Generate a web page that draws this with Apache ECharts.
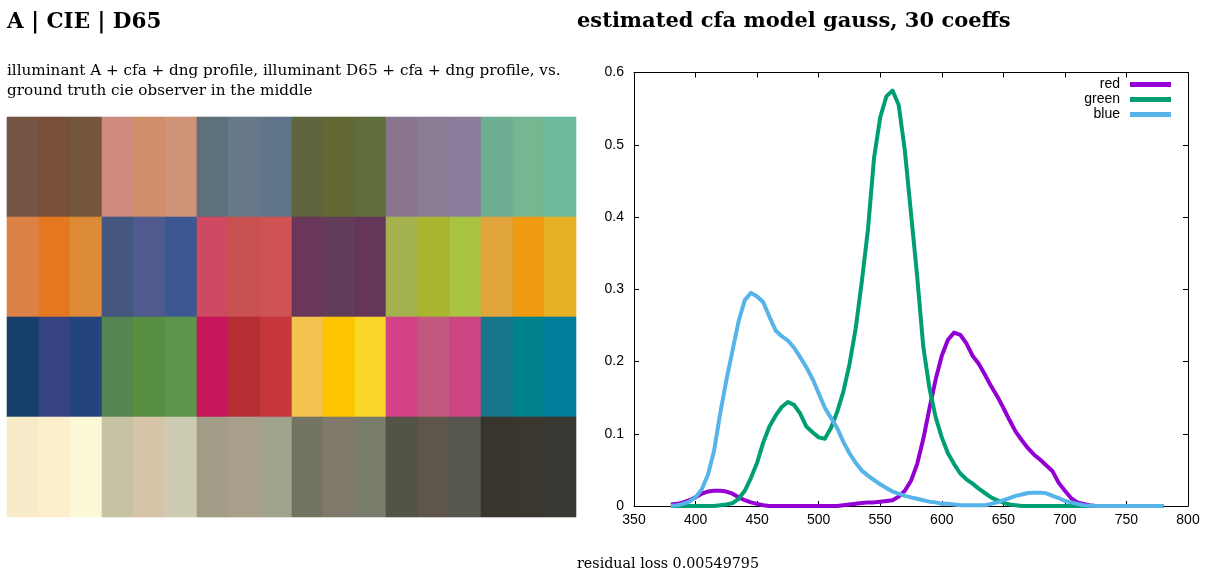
<!DOCTYPE html>
<html>
<head>
<meta charset="utf-8">
<script src="https://cdn.jsdelivr.net/npm/echarts@6/dist/echarts.min.js"></script>
<style>
html,body{margin:0;padding:0;background:#fff;}
#c{width:1220px;height:578px;}
</style>
</head>
<body>
<div id="c"></div>
<script>
// ---- colour checker strips (A | CIE | D65 per patch), rows top to bottom ----
const patchRow1 = ['#765444','#774F3B','#74553D','#CE8A7C','#CF8D6A','#CF9377','#5D717A','#677888','#5F7589','#5F653E','#636835','#5F6E3A','#89758D','#8B7D94','#8A7D9C','#6DAE92','#74B791','#6CBA9B'];
const patchRow2 = ['#DC8247','#E5781F','#DC8A36','#45577F','#515A8E','#3C5792','#CE4A62','#C85252','#CF5353','#6A365C','#613D59','#653659','#A4B24E','#AAB52F','#A8C441','#E1A33C','#EF9A10','#E6AF24'];
const patchRow3 = ['#173F6C','#354380','#23447C','#558551','#558F3F','#5C944C','#C9155B','#B52F32','#C6373C','#F3C44F','#FEC400','#FAD628','#D34287','#C2587F','#CE4584','#18768A','#00828C','#007D9A'];
const patchRow4 = ['#F8EBCA','#FDEFCC','#FAF8D7','#C6C2A4','#D6C4A9','#CDCCB2','#A19C85','#A99E8A','#A1A38D','#747463','#80786A','#787C6B','#545348','#5E564B','#56584F','#38342E','#3C3631','#393832'];

// ---- spectral curves, 380..780 nm every 5 nm ----
const wavelengths = [];
for (let w = 380; w <= 780; w += 5) wavelengths.push(w);
const redValues = [0.002,0.003,0.005,0.008,0.012,0.017,0.020,0.021,0.021,0.020,0.017,0.012,0.008,0.005,0.003,0.001,
  0,0,0,0,0,0,0,0,0,0,0,0,
  0.001,0.002,0.003,0.004,0.005,0.005,0.006,0.007,0.008,0.013,0.021,0.035,0.058,0.093,0.135,0.175,0.208,0.230,0.240,0.237,0.225,0.208,0.197,0.182,0.166,0.152,0.136,0.119,0.103,0.091,0.080,0.071,0.064,0.056,0.048,0.032,0.021,0.011,0.005,0.003,0.001,
  0,0,0,0,0,0,0,0,0,0,0,0];
const greenValues = [0,0,0,0,0,0,0,0,0.001,0.002,0.004,0.010,0.021,0.039,0.060,0.088,0.110,0.125,0.137,0.144,0.140,0.128,0.110,0.102,0.095,0.093,0.108,0.130,0.158,0.196,0.245,0.310,0.382,0.482,0.538,0.567,0.575,0.555,0.492,0.405,0.318,0.220,0.163,0.123,0.095,0.073,0.058,0.045,0.037,0.031,0.024,0.018,0.012,0.008,0.0045,0.002,0.001,
  0,0,0,0,0,0,0,0,0,0,0,0,0,0,0,0,0,0,0,0,0,0,0,0,0];
const blueValues = [0.000,0.001,0.003,0.006,0.012,0.023,0.043,0.076,0.128,0.174,0.215,0.256,0.285,0.295,0.290,0.282,0.262,0.243,0.235,0.229,0.219,0.206,0.192,0.176,0.156,0.136,0.122,0.108,0.089,0.073,0.060,0.049,0.042,0.036,0.030,0.025,0.020,0.017,0.014,0.012,0.010,0.008,0.006,0.005,0.003,0.003,0.002,0.001,0.001,0.001,0.001,0.001,0.003,0.005,0.008,0.011,0.014,0.016,0.018,0.0185,0.0185,0.0175,0.014,0.011,0.007,0.005,0.003,0.001,0.0005,
  0,0,0,0,0,0,0,0,0,0,0,0];

const seriesNames = ['red','green','blue'];
const seriesColors = ['#9400D3','#009E73','#56B4E9'];
const xTicks = {min:350, max:800, step:50};
const yTicks = {min:0, max:0.6, step:0.1};

const patchRows = [patchRow1, patchRow2, patchRow3, patchRow4];
const patchData = [];
const patchColors = [];
patchRows.forEach((row, r) => row.forEach((col, i) => { patchData.push([i, r]); patchColors.push(col); }));

function pairs(vals){ return wavelengths.map((w,i)=>[w, vals[i]]); }

const serif = 'DejaVu Serif';
const sans = 'Liberation Sans';

const chart = echarts.init(document.getElementById('c'), null, {renderer:'canvas'});
chart.setOption({
  animation:false,
  backgroundColor:'#fff',
  title:[
    {text:'A | CIE | D65', left:7, top:11.5, padding:0, textStyle:{fontFamily:serif, fontWeight:'bold', fontSize:21.5, color:'#000'}},
    {text:'estimated cfa model gauss, 30 coeffs', left:577, top:11.5, padding:0, textStyle:{fontFamily:serif, fontWeight:'bold', fontSize:21, color:'#000'}},
    {text:'illuminant A + cfa + dng profile, illuminant D65 + cfa + dng profile, vs.\nground truth cie observer in the middle', left:7, top:61, padding:0, textStyle:{fontFamily:serif, fontWeight:'normal', fontSize:15.2, lineHeight:20, color:'#000'}},
    {text:'residual loss 0.00549795', left:577, top:557.5, padding:0, textStyle:{fontFamily:serif, fontWeight:'normal', fontSize:14.3, color:'#000'}}
  ],
  grid:[
    {left:7, top:117, width:569, height:400},
    {left:634, top:72.5, right:32, bottom:72}
  ],
  xAxis:[
    {gridIndex:0, type:'value', min:0, max:18, show:false},
    {gridIndex:1, type:'value', min:xTicks.min, max:xTicks.max, interval:xTicks.step, position:'bottom',
      axisLine:{show:true, onZero:false, lineStyle:{color:'#000', width:1}},
      axisTick:{show:true, inside:true, length:5, lineStyle:{color:'#000'}},
      axisLabel:{show:true, margin:7, fontFamily:sans, fontSize:14, color:'#000'},
      splitLine:{show:false}},
    {gridIndex:1, type:'value', min:xTicks.min, max:xTicks.max, interval:xTicks.step, position:'top',
      axisLine:{show:true, onZero:false, lineStyle:{color:'#000', width:1}},
      axisTick:{show:true, inside:true, length:5, lineStyle:{color:'#000'}},
      axisLabel:{show:false}, splitLine:{show:false}}
  ],
  yAxis:[
    {gridIndex:0, type:'value', min:0, max:4, inverse:true, show:false},
    {gridIndex:1, type:'value', min:yTicks.min, max:yTicks.max, interval:yTicks.step, position:'left',
      axisLine:{show:true, onZero:false, lineStyle:{color:'#000', width:1}},
      axisTick:{show:true, inside:true, length:5, lineStyle:{color:'#000'}},
      axisLabel:{show:true, margin:10, fontFamily:sans, fontSize:14, color:'#000'},
      splitLine:{show:false}},
    {gridIndex:1, type:'value', min:yTicks.min, max:yTicks.max, interval:yTicks.step, position:'right',
      axisLine:{show:true, onZero:false, lineStyle:{color:'#000', width:1}},
      axisTick:{show:true, inside:true, length:5, lineStyle:{color:'#000'}},
      axisLabel:{show:false}, splitLine:{show:false}}
  ],
  legend:{
    data:seriesNames, orient:'vertical', right:49, top:77, align:'right', padding:0,
    itemWidth:41, itemHeight:5, itemGap:0, icon:'rect',
    textStyle:{fontFamily:sans, fontSize:14, color:'#000', lineHeight:15, padding:[0,5,0,0]}
  },
  series:[
    {type:'custom', xAxisIndex:0, yAxisIndex:0, data:patchData, silent:true,
      renderItem:function(params, api){
        const x = api.value(0), y = api.value(1);
        const p0 = api.coord([x, y]);
        const p1 = api.coord([x+1, y+1]);
        const x0 = Math.round(p0[0]), y0 = Math.round(p0[1]);
        const x1 = Math.round(p1[0]), y1 = Math.round(p1[1]);
        return {type:'rect', shape:{x:x0, y:y0, width:x1-x0, height:y1-y0},
          style:{fill:patchColors[params.dataIndex], stroke:patchColors[params.dataIndex], lineWidth:0.6}};
      }},
    ...seriesNames.map((n, i) => ({
      name:n, type:'line', xAxisIndex:1, yAxisIndex:1,
      data:pairs([redValues, greenValues, blueValues][i]),
      showSymbol:false, symbol:'none', smooth:false,
      lineStyle:{color:seriesColors[i], width:4, cap:'butt', join:'round'},
      itemStyle:{color:seriesColors[i]}
    }))
  ]
});
</script>
</body>
</html>
